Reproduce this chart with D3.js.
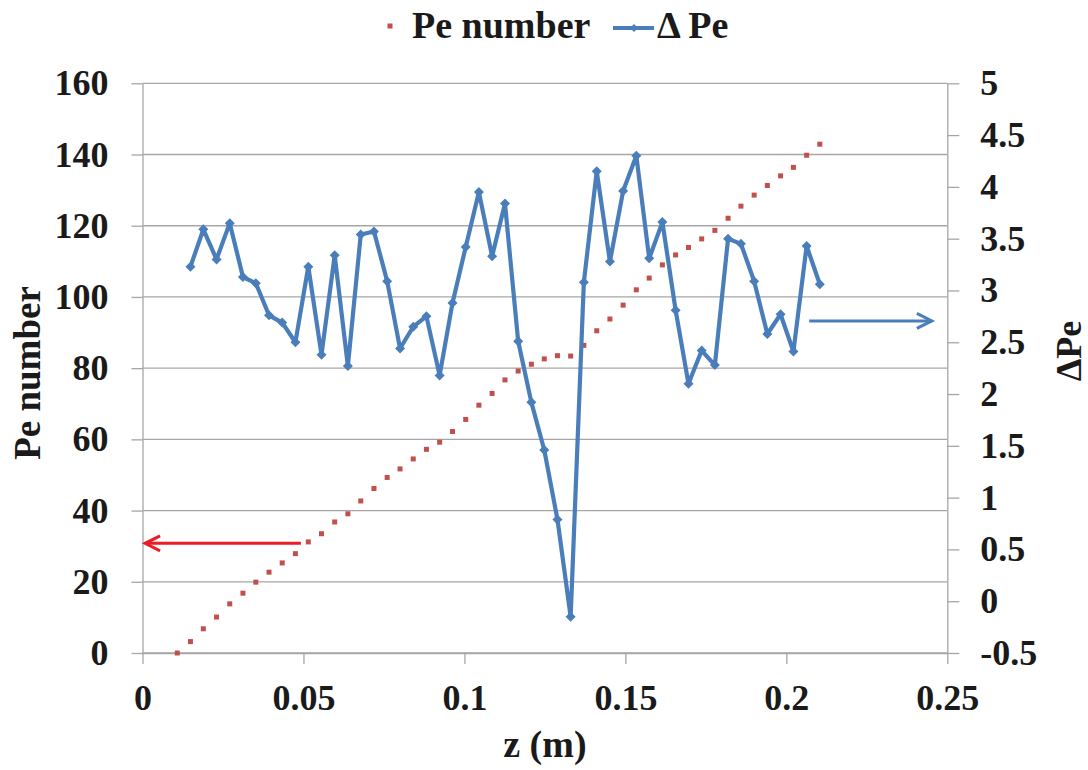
<!DOCTYPE html>
<html>
<head>
<meta charset="utf-8">
<script src="https://cdn.jsdelivr.net/npm/d3@7/dist/d3.min.js"></script>
<style>
  html, body { margin: 0; padding: 0; background: #fff; }
  svg text { font-family: "Liberation Serif", "Times New Roman", serif; font-weight: bold; fill: #1a1a1a; }
</style>
</head>
<body>
<svg id="chart" width="1088" height="770"></svg>
<script>
// ---- data ----
const zPe = [0.0108,0.0149,0.0189,0.0230,0.0271,0.0312,0.0352,0.0393,0.0434,0.0475,
             0.0515,0.0556,0.0597,0.0638,0.0678,0.0719,0.0760,0.0800,0.0841,0.0882,
             0.0923,0.0963,0.1004,0.1045,0.1086,0.1126,0.1167,0.1208,0.1248,0.1289,
             0.1330,0.1371,0.1411,0.1452,0.1493,0.1534,0.1574,0.1615,0.1656,0.1696,
             0.1737,0.1778,0.1819,0.1859,0.1900,0.1941,0.1982,0.2022,0.2063,0.2104];
const peNumber = [0,3.2,6.8,10.1,13.8,16.8,19.9,22.7,25.3,27.9,
                  31.2,33.5,36.8,39.1,42.7,46.2,49.3,51.7,54.5,57.2,
                  59.2,62.2,65.6,69.6,72.9,76.7,79.2,81.1,82.6,83.5,
                  83.4,86.4,90.5,93.8,97.7,102,105.3,109,111.8,113.9,
                  116.3,118.7,122.1,125.5,128.6,131.3,134,136.4,139.8,142.9];
const zDelta = zPe.slice(1);
const deltaPe = [3.23,3.59,3.30,3.65,3.13,3.07,2.76,2.69,2.50,3.23,
                 2.38,3.34,2.27,3.54,3.57,3.09,2.44,2.65,2.75,2.18,
                 2.88,3.42,3.95,3.33,3.84,2.51,1.92,1.46,0.79,-0.15,
                 3.08,4.15,3.28,3.96,4.30,3.31,3.66,2.81,2.10,2.42,
                 2.28,3.50,3.45,3.09,2.58,2.77,2.41,3.43,3.06];
const xTicks = [0,0.05,0.1,0.15,0.2,0.25];
const yLeftTicks = [0,20,40,60,80,100,120,140,160];
const yRightTicks = [-0.5,0,0.5,1,1.5,2,2.5,3,3.5,4,4.5,5];
const seriesNames = ["Pe number", "\u0394 Pe"];
const xTitle = "z (m)", yLeftTitle = "Pe number", yRightTitle = "\u0394Pe";
// annotation arrows (data coords)
const redArrow = {from: 0.0492, to: 0.0008, y: 30.8};
const blueArrow = {from: 0.2071, to: 0.2452, y: 2.706};

// ---- layout ----
const L = 142.5, R = 947.3, T = 83.3, B = 653;
const svg = d3.select("#chart");
const x = d3.scaleLinear().domain([0, 0.25]).range([L, R]);
const yL = d3.scaleLinear().domain([0, 160]).range([B, T]);
const yR = d3.scaleLinear().domain([-0.5, 5]).range([B, T]);
const gridColor = "#a6a6a6";
const blue = "#4a7ebb", red = "#c0504d";

// gridlines
svg.append("g").selectAll("line").data(yLeftTicks).join("line")
  .attr("x1", L).attr("x2", R).attr("y1", d => yL(d)).attr("y2", d => yL(d))
  .attr("stroke", gridColor).attr("stroke-width", 1.3);

function styleAxis(g) {
  g.selectAll("path.domain").attr("stroke", gridColor).attr("stroke-width", 1.3);
  g.selectAll(".tick line").attr("stroke", gridColor).attr("stroke-width", 1.3);
  g.selectAll("text").attr("font-size", 36).attr("fill", "#1a1a1a")
    .attr("font-family", "'Liberation Serif', 'Times New Roman', serif").attr("font-weight", "bold");
}

svg.append("g").attr("transform", `translate(0,${B})`)
  .call(d3.axisBottom(x).tickValues(xTicks).tickFormat(d => String(d)).tickSize(11).tickSizeOuter(0).tickPadding(20))
  .call(styleAxis);
svg.append("g").attr("transform", `translate(${L},0)`)
  .call(d3.axisLeft(yL).tickValues(yLeftTicks).tickFormat(d => String(d)).tickSize(11).tickSizeOuter(0).tickPadding(23))
  .call(styleAxis);
svg.append("g").attr("transform", `translate(${R},0)`)
  .call(d3.axisRight(yR).tickValues(yRightTicks).tickFormat(d => String(d)).tickSize(12).tickSizeOuter(0).tickPadding(21))
  .call(styleAxis);

// Pe number: red square markers
svg.append("g").selectAll("rect").data(zPe.map((z, i) => [z, peNumber[i]])).join("rect")
  .attr("x", d => x(d[0]) - 2.5).attr("y", d => yL(d[1]) - 2.5)
  .attr("width", 5).attr("height", 5).attr("fill", red);

// Delta Pe: blue line with diamonds
const dData = zDelta.map((z, i) => [z, deltaPe[i]]);
svg.append("path").datum(dData)
  .attr("d", d3.line().x(d => x(d[0])).y(d => yR(d[1])))
  .attr("fill", "none").attr("stroke", blue).attr("stroke-width", 4.2).attr("stroke-linejoin", "round");
const diamond = "M0,-5L5,0L0,5L-5,0Z";
svg.append("g").selectAll("path").data(dData).join("path")
  .attr("d", diamond).attr("transform", d => `translate(${x(d[0])},${yR(d[1])})`)
  .attr("fill", blue);

// arrows
function arrow(x1, x2, y, color) {
  const g = svg.append("g").attr("stroke", color).attr("stroke-width", 3).attr("fill", "none");
  g.append("line").attr("x1", x1).attr("x2", x2).attr("y1", y).attr("y2", y);
  const dir = x2 > x1 ? -1 : 1;
  g.append("path").attr("d", `M${x2 + dir * 15},${y - 7.5}L${x2},${y}L${x2 + dir * 15},${y + 7.5}`)
    .attr("stroke-linejoin", "miter");
}
arrow(x(redArrow.from), x(redArrow.to), yL(redArrow.y), "#ee1c24");
arrow(x(blueArrow.from), x(blueArrow.to), yR(blueArrow.y), blue);

// axis titles
svg.append("text").attr("x", (L + R) / 2).attr("y", 757).attr("text-anchor", "middle")
  .attr("font-size", 38).text(xTitle);
svg.append("text").attr("transform", `translate(40,373) rotate(-90)`)
  .attr("text-anchor", "middle").attr("font-size", 37).text(yLeftTitle);
svg.append("text").attr("transform", `translate(1081,351) rotate(-90)`)
  .attr("text-anchor", "middle").attr("font-size", 36).text(yRightTitle);

// legend
const lg = svg.append("g");
lg.append("rect").attr("x", 387.5).attr("y", 23.5).attr("width", 5).attr("height", 5).attr("fill", red);
lg.append("text").attr("x", 412).attr("y", 38).attr("font-size", 38).text(seriesNames[0]);
lg.append("line").attr("x1", 613).attr("x2", 654).attr("y1", 28).attr("y2", 28)
  .attr("stroke", blue).attr("stroke-width", 4.2);
lg.append("path").attr("d", "M0,-4L4,0L0,4L-4,0Z").attr("transform", "translate(634,28)").attr("fill", blue);
lg.append("text").attr("x", 657).attr("y", 38).attr("font-size", 38).text(seriesNames[1]);
</script>
</body>
</html>
